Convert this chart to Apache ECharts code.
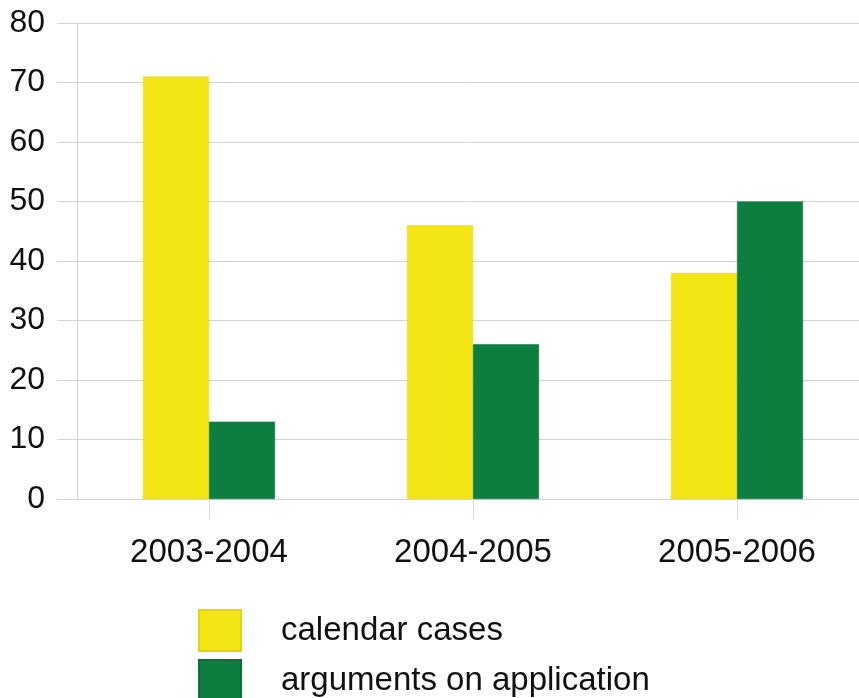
<!DOCTYPE html>
<html>
<head>
<meta charset="utf-8">
<script src="https://cdn.jsdelivr.net/npm/echarts@6/dist/echarts.min.js"></script>
<style>
  html, body { margin: 0; padding: 0; background: #ffffff; }
  #chart { width: 859px; height: 698px; }
</style>
</head>
<body>
<div id="chart"></div>
<script>
// Seasons on the category axis
const categories = ['2003-2004', '2004-2005', '2005-2006'];
// Number of cases per season
const calendarCases = [71, 46, 38];
const argumentsOnApplication = [13, 26, 50];
// Value axis range
const yMin = 0;
const yMax = 80;
const yStep = 10;

const FONT = "'Liberation Sans', Arial, sans-serif";
const GRID_GREY = '#d4d4d4';
const TEXT = '#111111';

const legendText = { fontFamily: FONT, fontSize: 33, color: TEXT, padding: [6, 0, 0, 35] };

const chart = echarts.init(document.getElementById('chart'), null, { renderer: 'canvas' });

chart.setOption({
  animation: false,
  backgroundColor: '#ffffff',
  // the plot runs slightly past the right edge of the canvas
  grid: { left: 77, top: 23, width: 792, height: 476, containLabel: false, outerBoundsMode: 'none' },
  legend: [
    {
      orient: 'vertical',
      left: 198,
      top: 609,
      padding: 0,
      itemWidth: 42,
      itemHeight: 41,
      icon: 'rect',
      textStyle: legendText,
      data: ['calendar cases']
    },
    {
      orient: 'vertical',
      left: 198,
      top: 659,
      padding: 0,
      itemWidth: 42,
      itemHeight: 41,
      icon: 'rect',
      textStyle: legendText,
      data: ['arguments on application']
    }
  ],
  xAxis: {
    type: 'category',
    data: categories,
    axisLine: { show: true, lineStyle: { color: GRID_GREY, width: 1 } },
    axisTick: { show: true, alignWithLabel: true, length: 20, lineStyle: { color: GRID_GREY } },
    axisLabel: { fontFamily: FONT, fontSize: 33, color: TEXT, margin: 37 },
    splitLine: { show: false }
  },
  yAxis: {
    type: 'value',
    min: yMin,
    max: yMax,
    interval: yStep,
    axisLine: { show: true, lineStyle: { color: GRID_GREY, width: 1 } },
    axisTick: { show: true, length: 20, lineStyle: { color: GRID_GREY } },
    axisLabel: { fontFamily: FONT, fontSize: 32, color: TEXT, margin: 32 },
    splitLine: { show: true, lineStyle: { color: GRID_GREY, width: 1 } }
  },
  series: [
    {
      name: 'calendar cases',
      type: 'bar',
      data: calendarCases,
      barWidth: '25%',
      barGap: '0%',
      itemStyle: { color: '#f4e614', borderColor: '#e2d40e', borderWidth: 0.5 }
    },
    {
      name: 'arguments on application',
      type: 'bar',
      data: argumentsOnApplication,
      barWidth: '25%',
      barGap: '0%',
      itemStyle: { color: '#0c7f40', borderColor: '#0a7038', borderWidth: 0.5 }
    }
  ]
});
</script>
</body>
</html>
